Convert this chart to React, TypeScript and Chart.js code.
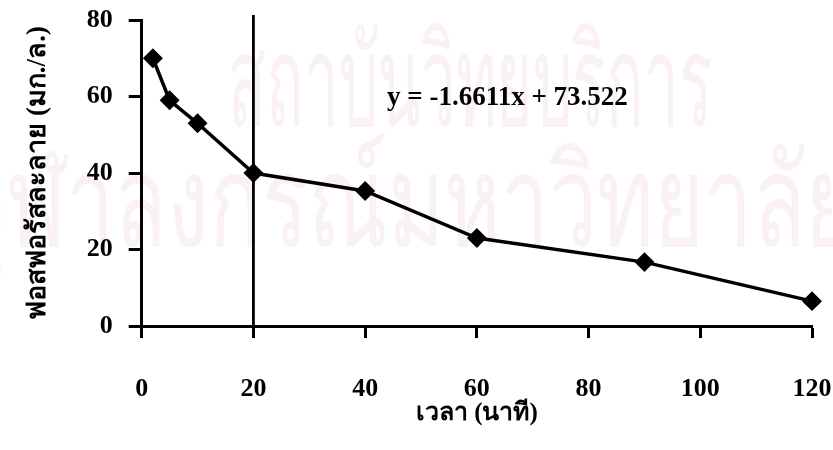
import React, { useEffect, useRef } from "react";
import { Chart, registerables } from "chart.js";

Chart.register(...registerables);

const timeMin = [2, 5, 10, 20, 40, 60, 90, 120];
const phosphorus = [70, 59, 53, 40, 35.3, 23, 16.7, 6.5];
const xTicks = [0, 20, 40, 60, 80, 100, 120];
const yTicks = [0, 20, 40, 60, 80];
const markerX = 20;
const equationText = "y = -1.6611x + 73.522";
const xTitle = "เวลา (นาที)";
const yTitle = "ฟอสฟอรัสละลาย (มก./ล.)";
const watermark1 = "สถาบันวิทยบริการ";
const watermark2 = "จุฬาลงกรณ์มหาวิทยาลัย";

const SERIF = "'Liberation Serif', 'Times New Roman', serif";

const decorPlugin = {
  id: "decor",
  beforeDraw(chart: any) {
    const ctx = chart.ctx;
    ctx.save();
    ctx.fillStyle = "#fff";
    ctx.fillRect(0, 0, chart.width, chart.height);
    // watermark
    ctx.fillStyle = "#f9f1f6";
    ctx.textBaseline = "alphabetic";
    ctx.textAlign = "left";
    ctx.font = "128px 'Noto Sans', sans-serif";
    const w1 = ctx.measureText(watermark1).width;
    const s1 = (712 - 228) / w1;
    ctx.save();
    ctx.translate(228, 126);
    ctx.scale(s1, 1);
    ctx.fillText(watermark1, 0, 0);
    ctx.restore();
    const wJ = ctx.measureText("จุ").width;
    const wEnd = ctx.measureText("จุฬาลงกรณ์มหาวิทยาลั").width;
    const s2 = (805 - 7) / (wEnd - wJ);
    const x0 = 7 - wJ * s2;
    ctx.save();
    ctx.translate(x0, 246);
    ctx.scale(s2, 1);
    ctx.fillText(watermark2, 0, 0);
    ctx.restore();
    ctx.restore();
  },
  afterDraw(chart: any) {
    const ctx = chart.ctx;
    const xs = chart.scales.x;
    const ys = chart.scales.y;
    ctx.save();
    // vertical line
    const vx = xs.getPixelForValue(markerX);
    ctx.strokeStyle = "#000";
    ctx.lineWidth = 2.8;
    ctx.beginPath();
    ctx.moveTo(vx, ys.top - 5);
    ctx.lineTo(vx, ys.bottom);
    ctx.stroke();
    // equation
    ctx.fillStyle = "#000";
    ctx.font = `bold 27px ${SERIF}`;
    ctx.textAlign = "left";
    ctx.textBaseline = "alphabetic";
    ctx.fillText(equationText, 387, 105);
    // x title
    ctx.font = `bold 25px ${SERIF}`;
    ctx.textAlign = "center";
    ctx.textBaseline = "middle";
    ctx.fillText(xTitle, (xs.left + xs.right) / 2, 414);
    // y title
    ctx.save();
    ctx.font = `bold 27px ${SERIF}`;
    ctx.translate(38, (ys.top + ys.bottom) / 2);
    ctx.rotate(-Math.PI / 2);
    ctx.fillText(yTitle, 0, 0);
    ctx.restore();
    ctx.restore();
  },
};

export default function App() {
  const ref = useRef<HTMLCanvasElement | null>(null);
  useEffect(() => {
    document.body.style.margin = "0";
    const canvas = ref.current!;
    const chart = new Chart(canvas, {
      type: "line",
      data: {
        datasets: [
          {
            data: timeMin.map((x, i) => ({ x, y: phosphorus[i] })),
            borderColor: "#000",
            backgroundColor: "#000",
            borderWidth: 3.5,
            pointStyle: "rectRot",
            pointRadius: 7.5,
            pointBackgroundColor: "#000",
            pointBorderColor: "#000",
            tension: 0,
            clip: false as any,
          },
        ],
      },
      options: {
        animation: false,
        responsive: false,
        devicePixelRatio: 1,
        layout: { padding: { top: 20, right: 21, left: 0, bottom: 0 } },
        plugins: { legend: { display: false }, tooltip: { enabled: false } },
        scales: {
          x: {
            type: "linear",
            min: 0,
            max: 120,
            afterBuildTicks: (s: any) => {
              s.ticks = xTicks.map((v) => ({ value: v }));
            },
            afterFit: (s: any) => {
              s.height = 124;
              s.paddingLeft = 0;
              s.paddingRight = 0;
            },
            grid: {
              drawOnChartArea: false,
              drawTicks: true,
              tickLength: 12,
              tickColor: "#000",
              tickWidth: 3,
            },
            border: { display: true, color: "#000", width: 3 },
            ticks: {
              color: "#000",
              padding: 36,
              maxRotation: 0,
              font: { family: SERIF, size: 26, weight: "bold" },
            },
          },
          y: {
            type: "linear",
            min: 0,
            max: 80,
            afterBuildTicks: (s: any) => {
              s.ticks = yTicks.map((v) => ({ value: v }));
            },
            afterFit: (s: any) => {
              s.width = 141.7;
              s.paddingTop = 0;
              s.paddingBottom = 0;
            },
            grid: {
              drawOnChartArea: false,
              drawTicks: true,
              tickLength: 13,
              tickColor: "#000",
              tickWidth: 3,
            },
            border: { display: true, color: "#000", width: 3 },
            ticks: {
              color: "#000",
              padding: 16,
              font: { family: SERIF, size: 26, weight: "bold" },
            },
          },
        },
      },
      plugins: [decorPlugin],
    } as any);
    return () => chart.destroy();
  }, []);
  return (
    <div style={{ width: 833, height: 450 }}>
      <canvas ref={ref} width={833} height={450} style={{ display: "block", width: 833, height: 450 }} />
    </div>
  );
}
